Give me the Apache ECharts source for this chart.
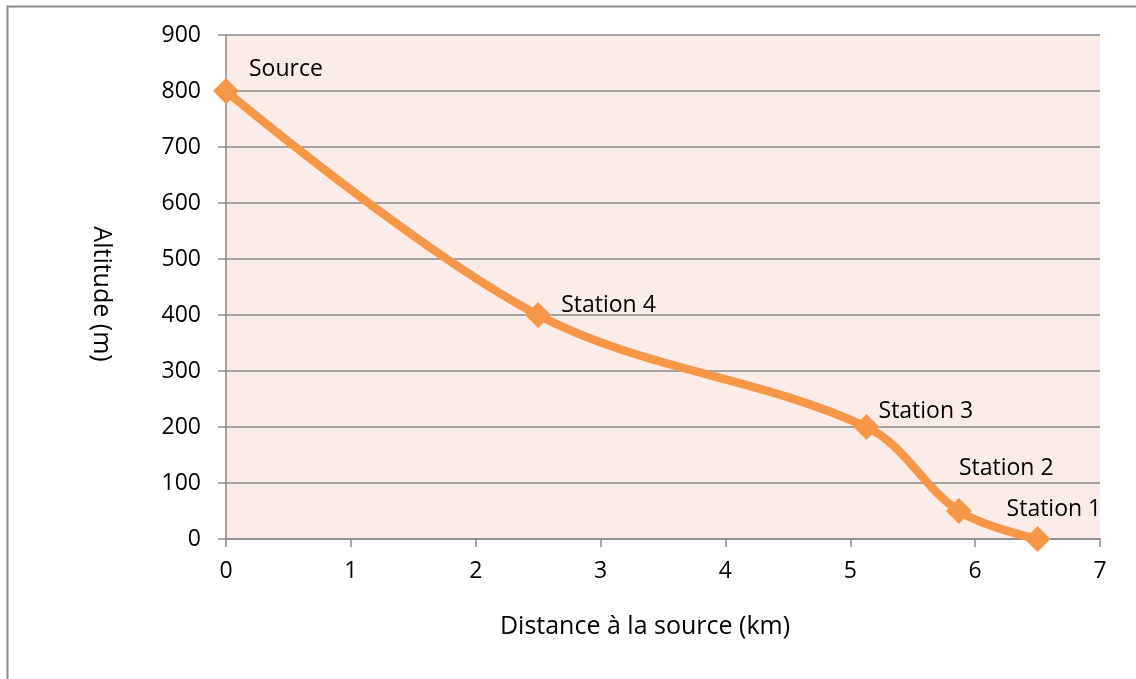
<!DOCTYPE html>
<html>
<head>
<meta charset="utf-8">
<script src="https://cdn.jsdelivr.net/npm/echarts@6/dist/echarts.min.js"></script>
<style>
  html, body { margin: 0; padding: 0; background: #fff; }
  #chart-container { width: 1136px; height: 679px; }
</style>
</head>
<body>
<div id="chart-container"></div>
<script>
// points along the river (distance in km, altitude in m)
var stationNames = ['Source', 'Station 4', 'Station 3', 'Station 2', 'Station 1'];
var distances = [0, 2.5, 5.13, 5.87, 6.5];
var altitudes = [800, 400, 200, 50, 0];
var xTicks = [0, 1, 2, 3, 4, 5, 6, 7];
var yTicks = [0, 100, 200, 300, 400, 500, 600, 700, 800, 900];

// label offsets (style only)
var labelOffsets = [[10, -22], [10, -10], [-1, -16], [-13, -43], [-44, -30]];

var chartDom = document.getElementById('chart-container');
var myChart = echarts.init(chartDom);

var font = 'Open Sans, Liberation Sans, sans-serif';
var orange = '#F79646';

var seriesData = distances.map(function (d, i) {
	return {
		value: [d, altitudes[i]],
		name: stationNames[i],
		label: { offset: labelOffsets[i] }
	};
});

var option = {
	animation: false,
	graphic: [
		{
			type: 'rect',
			shape: { x: 7.5, y: 6.5, width: 1200, height: 800 },
			style: { fill: null, stroke: '#8a8a8a', lineWidth: 2 },
			z: 0
		}
	],
	grid: {
		left: 226,
		right: 36,
		top: 35,
		bottom: 140,
		show: true,
		backgroundColor: '#FCECE7',
		borderWidth: 0
	},
	xAxis: {
		type: 'value',
		min: 0,
		max: 7,
		interval: 1,
		name: 'Distance à la source (km)',
		nameLocation: 'middle',
		nameGap: 75,
		nameTextStyle: {
			color: '#000',
			fontSize: 25,
			fontFamily: font,
			padding: [0, 36, 0, 0]
		},
		axisLine: { show: true, lineStyle: { color: '#8a8a8a', width: 1.5 } },
		axisTick: { show: true, length: 8, lineStyle: { color: '#8a8a8a', width: 1.5 } },
		axisLabel: {
			color: '#000',
			fontSize: 23,
			fontFamily: font,
			margin: 21,
			formatter: function (v) { return xTicks.indexOf(v) >= 0 ? String(v) : ''; }
		},
		splitLine: { show: false }
	},
	yAxis: {
		type: 'value',
		min: 0,
		max: 900,
		interval: 100,
		name: 'Altitude (m)',
		nameLocation: 'middle',
		nameRotate: -90,
		nameGap: 112,
		nameTextStyle: {
			color: '#000',
			fontSize: 25,
			fontFamily: font,
			padding: [0, 0, 0, 14]
		},
		axisLine: { show: true, lineStyle: { color: '#8a8a8a', width: 1.5 } },
		axisTick: { show: true, length: 8, lineStyle: { color: '#8a8a8a', width: 1.5 } },
		axisLabel: {
			color: '#000',
			fontSize: 23,
			fontFamily: font,
			margin: 25,
			formatter: function (v) { return yTicks.indexOf(v) >= 0 ? String(v) : ''; }
		},
		splitLine: { show: true, lineStyle: { color: '#8a8a8a', width: 1.5 } }
	},
	series: [
		{
			type: 'line',
			data: seriesData,
			smooth: 0.35,
			symbol: 'diamond',
			symbolSize: 26,
			itemStyle: { color: orange },
			lineStyle: { color: orange, width: 8.5 },
			label: {
				show: true,
				position: 'right',
				distance: 0,
				color: '#000',
				fontSize: 23,
				fontFamily: font,
				formatter: function (p) { return p.name; }
			},
			z: 3
		}
	]
};

myChart.setOption(option);

window.addEventListener('resize', function () {
	myChart.resize();
});
</script>
</body>
</html>
